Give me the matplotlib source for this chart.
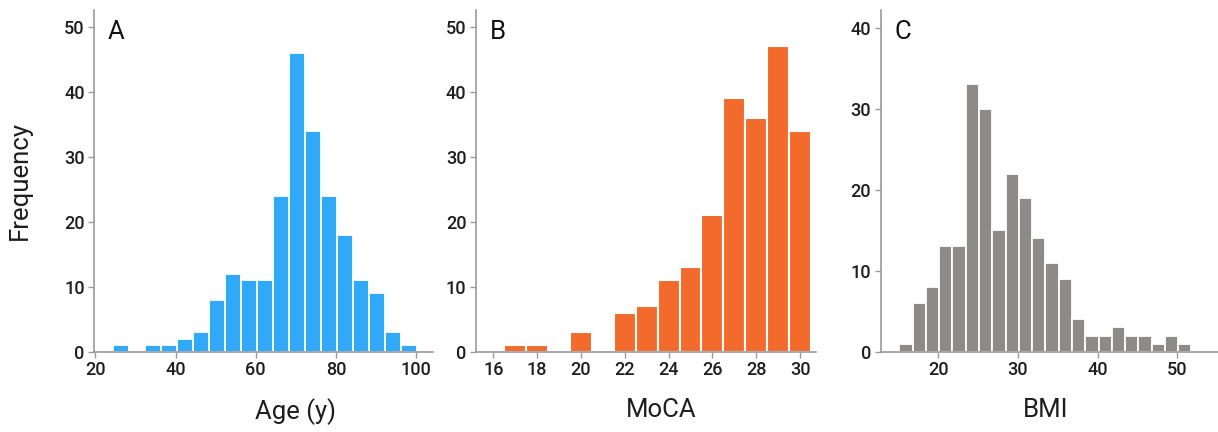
import matplotlib
matplotlib.use("Agg")
import matplotlib.pyplot as plt
import numpy as np

plt.rcParams['font.family'] = ['Roboto', 'DejaVu Sans']

# Age histogram: 19 bins of width 4 starting at ~24.3
age_counts = [1, 0, 1, 1, 2, 3, 8, 12, 11, 11, 24, 46, 34, 24, 18, 11, 9, 3, 1]
age_start, age_width = 24.3, 4.0

# MoCA histogram: one bin per integer score
moca_scores = [17, 18, 19, 20, 21, 22, 23, 24, 25, 26, 27, 28, 29, 30]
moca_counts = [1, 1, 0, 3, 0, 6, 7, 11, 13, 21, 39, 36, 47, 34]

# BMI histogram: 22 bins of width ~1.67 starting at ~15.1
bmi_counts = [1, 6, 8, 13, 13, 33, 30, 15, 22, 19, 14, 11, 9, 4, 2, 2, 3, 2, 2, 1, 2, 1]
bmi_start, bmi_width = 15.1, 1.667

W, H = 1218, 432
fig = plt.figure(figsize=(W / 100, H / 100), dpi=100)

def add_axes(x0, x1, y_top=10, y_bot=351.7):
    return fig.add_axes([x0 / W, 1 - y_bot / H, (x1 - x0) / W, (y_bot - y_top) / H])

axA = add_axes(94.3, 433)
axB = add_axes(476, 816)
axC = add_axes(880.7, 1218)

spine_col = '#9a9a9a'
text_col = '#1e1e1e'
label_size = 18.5

def style(ax, letter):
    for s in ['top', 'right']:
        ax.spines[s].set_visible(False)
    for s in ['left', 'bottom']:
        ax.spines[s].set_color(spine_col)
        ax.spines[s].set_linewidth(1.2)
    ax.tick_params(colors=spine_col, labelcolor=text_col, labelsize=13,
                   length=4, width=1, direction='out', pad=3)
    for lab in ax.get_xticklabels() + ax.get_yticklabels():
        lab.set_fontweight('medium')
    ax.text(0.04, 0.97, letter, transform=ax.transAxes, fontsize=18.5,
            color='#111111', va='top', ha='left')

# A - Age
edges = age_start + age_width * np.arange(len(age_counts))
axA.bar(edges, age_counts, width=age_width, align='edge', color='#30aaf8',
        edgecolor='white', linewidth=1.3)
axA.set_xlim(19.75, 104.2)
axA.set_ylim(0, 52.6)
axA.set_xticks([20, 40, 60, 80, 100])
axA.set_yticks([0, 10, 20, 30, 40, 50])
style(axA, 'A')
axA.set_xlabel('Age (y)', fontsize=label_size, color=text_col)
axA.xaxis.set_label_coords(0.595, -0.135)
axA.set_ylabel('Frequency', fontsize=label_size, color=text_col)
axA.yaxis.set_label_coords(-0.185, 0.5)

# B - MoCA
axB.bar(moca_scores, moca_counts, width=1.0, color='#f26b2c',
        edgecolor='white', linewidth=1.5)
axB.set_xlim(15.21, 30.73)
axB.set_ylim(0, 52.6)
axB.set_xticks([16, 18, 20, 22, 24, 26, 28, 30])
axB.set_yticks([0, 10, 20, 30, 40, 50])
style(axB, 'B')
axB.set_xlabel('MoCA', fontsize=label_size, color=text_col)
axB.xaxis.set_label_coords(0.545, -0.135)

# C - BMI
edges = bmi_start + bmi_width * np.arange(len(bmi_counts))
axC.bar(edges, bmi_counts, width=bmi_width, align='edge', color='#8e8a8a',
        edgecolor='white', linewidth=1.3)
axC.set_xlim(12.77, 55.1)
axC.set_ylim(0, 42.2)
axC.set_xticks([20, 30, 40, 50])
axC.set_yticks([0, 10, 20, 30, 40])
style(axC, 'C')
axC.set_xlabel('BMI', fontsize=label_size, color=text_col)
axC.xaxis.set_label_coords(0.49, -0.135)

fig.savefig('out.png', dpi=100)
